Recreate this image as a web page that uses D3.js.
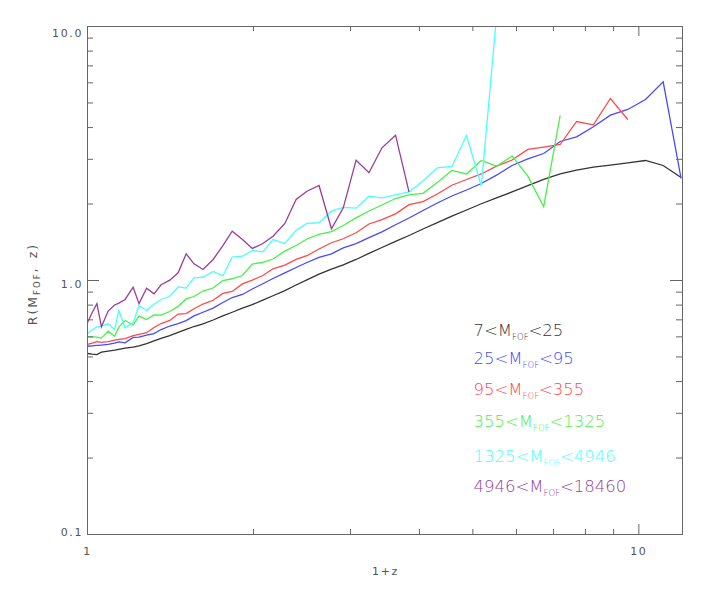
<!DOCTYPE html>
<html>
<head>
<meta charset="utf-8">
<script src="https://cdn.jsdelivr.net/npm/d3@7"></script>
<style>
  body { margin: 0; background: #fff; }
  svg { display: block; }
</style>
</head>
<body>
<svg id="chart" width="709" height="591"></svg>
<script>
// ---------------- data ----------------
const onePlusZ = [1.00, 1.02, 1.04, 1.06, 1.09, 1.12, 1.14, 1.17, 1.21, 1.24,
  1.28, 1.32, 1.36, 1.41, 1.46, 1.51, 1.56, 1.62, 1.69, 1.76,
  1.83, 1.91, 1.99, 2.08, 2.17, 2.28, 2.39, 2.50, 2.63, 2.77,
  2.91, 3.07, 3.24, 3.42, 3.62, 3.83, 4.06, 4.31, 4.58, 4.87,
  5.18, 5.52, 5.89, 6.29, 6.72, 7.20, 7.71, 8.27, 8.88, 9.55,
  10.28, 11.07, 11.93];

const massBinLow  = ["7", "25", "95", "355", "1325", "4946"];
const massBinHigh = ["25", "95", "355", "1325", "4946", "18460"];

const r_7_25 = [0.516, 0.513, 0.511, 0.522, 0.527, 0.532, 0.536, 0.542, 0.547, 0.553,
  0.564, 0.579, 0.592, 0.607, 0.625, 0.642, 0.659, 0.675, 0.699, 0.726,
  0.750, 0.778, 0.804, 0.837, 0.871, 0.913, 0.960, 1.006, 1.059, 1.108,
  1.153, 1.210, 1.279, 1.349, 1.425, 1.504, 1.595, 1.689, 1.791, 1.895,
  2.005, 2.113, 2.233, 2.362, 2.503, 2.631, 2.718, 2.796, 2.847, 2.907,
  2.968, 2.837, 2.544];

const r_25_95 = [0.551, 0.553, 0.555, 0.557, 0.560, 0.567, 0.573, 0.568, 0.597, 0.598,
  0.609, 0.618, 0.641, 0.662, 0.677, 0.695, 0.726, 0.750, 0.779, 0.819,
  0.857, 0.881, 0.926, 0.971, 1.018, 1.072, 1.125, 1.177, 1.232, 1.274,
  1.343, 1.398, 1.474, 1.555, 1.657, 1.762, 1.886, 2.019, 2.151, 2.271,
  2.409, 2.598, 2.837, 3.014, 3.162, 3.526, 3.680, 4.029, 4.476, 4.713,
  5.160, 6.058, 2.521];

const r_95_355 = [0.560, 0.567, 0.575, 0.571, 0.575, 0.582, 0.586, 0.590, 0.607, 0.614,
  0.623, 0.653, 0.677, 0.696, 0.738, 0.741, 0.774, 0.808, 0.836, 0.889,
  0.905, 0.970, 1.003, 1.046, 1.112, 1.150, 1.210, 1.252, 1.330, 1.408,
  1.460, 1.541, 1.669, 1.735, 1.830, 1.988, 2.043, 2.190, 2.371, 2.498,
  2.627, 2.818, 2.981, 3.280, 3.349, 3.431, 4.227, 4.102, 5.206, 4.305];

const r_355_1325 = [0.600, 0.600, 0.599, 0.593, 0.632, 0.603, 0.655, 0.696, 0.668, 0.724,
  0.702, 0.732, 0.730, 0.755, 0.791, 0.846, 0.865, 0.909, 0.934, 1.000,
  1.016, 1.046, 1.161, 1.179, 1.215, 1.305, 1.373, 1.457, 1.518, 1.559,
  1.646, 1.765, 1.878, 1.983, 2.103, 2.175, 2.204, 2.431, 2.711, 2.627,
  2.968, 2.818, 3.086, 2.574, 1.951, 4.464];

const r_1325_4946 = [0.618, 0.638, 0.657, 0.661, 0.675, 0.641, 0.762, 0.651, 0.680, 0.797,
  0.762, 0.807, 0.842, 0.867, 0.943, 0.934, 1.025, 1.030, 1.085, 1.042,
  1.237, 1.246, 1.312, 1.297, 1.450, 1.398, 1.578, 1.677, 1.688, 1.875,
  1.939, 1.926, 2.147, 2.116, 2.175, 2.235, 2.465, 2.778, 2.811, 3.724,
  2.355, 11.0];

const r_4946_18460 = [0.683, 0.748, 0.811, 0.657, 0.758, 0.801, 0.815, 0.842, 0.941, 0.811,
  0.933, 0.886, 0.962, 1.003, 1.072, 1.274, 1.163, 1.105, 1.210, 1.373,
  1.564, 1.450, 1.337, 1.398, 1.494, 1.677, 2.084, 2.247, 2.366, 1.598,
  1.933, 2.976, 2.655, 3.330, 3.733, 2.227];

const xMajorTicks = [1, 10];
const xMinorTicks = [2, 3, 4, 5, 6, 7, 8, 9];
const yMajorTicks = [0.1, 1, 10];
const yMinorTicks = [0.2, 0.3, 0.4, 0.5, 0.6, 0.7, 0.8, 0.9, 2, 3, 4, 5, 6, 7, 8, 9];

// ---------------- layout / style ----------------
const seriesValues = [r_7_25, r_25_95, r_95_355, r_355_1325, r_1325_4946, r_4946_18460];
const seriesColors = ["#333333", "#4848ff", "#ff4848", "#48f048", "#48ffff", "#993d99"];
const legendBaselines = [336, 363.5, 395, 426.5, 461.5, 491.5];

const plot = { left: 87, right: 682, top: 26, bottom: 534 };
const axisColor = "#666666";
const labelColor = "#555555";
const FONT = "'DejaVu Sans', Verdana, sans-serif";

const svg = d3.select("#chart");
svg.append("rect").attr("width", 709).attr("height", 591).attr("fill", "#fff");

const x = d3.scaleLog().domain([1, 12]).range([plot.left, plot.right]);
const y = d3.scaleLog().domain([0.1, 10]).range([plot.bottom, plot.top]);

svg.append("clipPath").attr("id", "plotclip")
  .append("rect")
  .attr("x", plot.left).attr("y", plot.top)
  .attr("width", plot.right - plot.left + 1)
  .attr("height", plot.bottom - plot.top + 1);

// ---------------- lines ----------------
const line = d3.line().x(d => x(d[0]) + 0.5).y(d => y(d[1]) + 0.5);
const lineG = svg.append("g").attr("clip-path", "url(#plotclip)");
seriesValues.forEach((vals, i) => {
  const pts = vals.map((v, j) => [onePlusZ[j], v]);
  lineG.append("path")
    .datum(pts)
    .attr("d", line)
    .attr("fill", "none")
    .attr("stroke", seriesColors[i])
    .attr("stroke-width", 1.3)
    .attr("stroke-linejoin", "miter");
});

// ---------------- axes ----------------
function style(g) {
  g.attr("font-family", FONT);
  g.selectAll("path, line").attr("stroke", axisColor).attr("stroke-width", 1);
  g.selectAll("text").attr("fill", labelColor).attr("font-size", 11)
    .attr("letter-spacing", "1.6px");
}

// bottom
svg.append("g").attr("transform", `translate(0,${plot.bottom})`)
  .call(d3.axisBottom(x).tickValues(xMajorTicks).tickSizeInner(-10).tickSizeOuter(0)
    .tickPadding(13).tickFormat(d3.format("d")))
  .call(style);
svg.append("g").attr("transform", `translate(0,${plot.bottom})`)
  .call(d3.axisBottom(x).tickValues(xMinorTicks).tickSizeInner(-5).tickSizeOuter(0).tickFormat(""))
  .call(style);
// top
svg.append("g").attr("transform", `translate(0,${plot.top})`)
  .call(d3.axisTop(x).tickValues(xMajorTicks).tickSizeInner(-10).tickSizeOuter(0).tickFormat(""))
  .call(style);
svg.append("g").attr("transform", `translate(0,${plot.top})`)
  .call(d3.axisTop(x).tickValues(xMinorTicks).tickSizeInner(-5).tickSizeOuter(0).tickFormat(""))
  .call(style);
// left
const yLabelShift = v => (v >= 10 ? 10.5 : v >= 1 ? 7 : 1.5);
svg.append("g").attr("transform", `translate(${plot.left},0)`)
  .call(d3.axisLeft(y).tickValues(yMajorTicks).tickSizeInner(-12).tickSizeOuter(0)
    .tickPadding(4).tickFormat(d3.format(".1f")))
  .call(style)
  .call(g => g.selectAll("text").attr("dy", 0).attr("y", d => yLabelShift(d)));
svg.append("g").attr("transform", `translate(${plot.left},0)`)
  .call(d3.axisLeft(y).tickValues(yMinorTicks).tickSizeInner(-6).tickSizeOuter(0).tickFormat(""))
  .call(style);
// right
svg.append("g").attr("transform", `translate(${plot.right},0)`)
  .call(d3.axisRight(y).tickValues(yMajorTicks).tickSizeInner(-12).tickSizeOuter(0).tickFormat(""))
  .call(style);
svg.append("g").attr("transform", `translate(${plot.right},0)`)
  .call(d3.axisRight(y).tickValues(yMinorTicks).tickSizeInner(-6).tickSizeOuter(0).tickFormat(""))
  .call(style);

// ---------------- axis titles ----------------
svg.append("text")
  .attr("x", (plot.left + plot.right) / 2 + 1)
  .attr("y", 575)
  .attr("text-anchor", "middle")
  .attr("font-family", FONT).attr("font-size", 11).attr("letter-spacing", "1.6px")
  .attr("fill", labelColor)
  .text("1+z");

const yt = svg.append("text")
  .attr("transform", "translate(36.5,284) rotate(-90)")
  .attr("text-anchor", "middle")
  .attr("font-family", FONT).attr("font-size", 12.5).attr("letter-spacing", "2px")
  .attr("fill", labelColor);
yt.append("tspan").text("R(M");
yt.append("tspan").attr("font-size", 8.5).attr("dy", 3.5).text("FOF");
yt.append("tspan").attr("dy", -3.5).text(",\u2002z)");

// ---------------- legend ----------------
seriesValues.forEach((_, i) => {
  const t = svg.append("text")
    .attr("x", 473.5).attr("y", legendBaselines[i])
    .attr("font-family", FONT).attr("font-size", 16.5).attr("font-weight", 200)
    .attr("fill", seriesColors[i]);
  t.append("tspan").text(massBinLow[i] + "<M");
  t.append("tspan").attr("font-size", 8.5).attr("dy", 4).text("FOF");
  t.append("tspan").attr("dy", -4).text("<" + massBinHigh[i]);
});
</script>
</body>
</html>
